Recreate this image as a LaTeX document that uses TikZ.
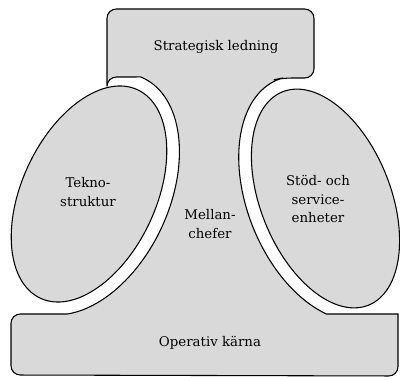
\documentclass[tikz,border=0pt]{standalone}
\usepackage{fontspec}
\setmainfont{DejaVu Serif}
\usetikzlibrary{positioning}
\tikzset{
    stomme/.style  = {draw, line width=0.8pt, fill=black!15},
    del/.style     = {draw, line width=0.8pt, fill=black!15},
    etikett/.style = {font=\fontsize{10}{13.8}\selectfont, align=center, inner sep=1pt}
}

\begin{document}
\begin{tikzpicture}[x=0.75pt, y=0.75pt]
    \useasboundingbox (0,0) rectangle (400,379);

    \draw[stomme] (107,290) [rounded corners=7] -- (107,370) -- (314,370) -- (314,301) -- (283,301) [sharp corners]
        -- plot[domain=85.8:237.1, samples=60, variable=\t]
            ({325.5+72.32*cos(\t)-47.95*sin(\t)}, {180.5+29.22*cos(\t)+118.68*sin(\t)})
        -- (398,65) [rounded corners=7] -- (398,3) -- (11,4) -- (11,65) [sharp corners] -- (67.3,65)
        -- plot[domain=-67.15:91.85, samples=60, variable=\t]
            ({89+72.5*cos(\t)+54.09*sin(\t)}, {185-33.81*cos(\t)+116.01*sin(\t)})
        [rounded corners=7] -- (107,302) -- cycle;

    \draw[del, rotate around={-25:(89,185)}] (89,185) ellipse (67 and 115);
    \draw[del, rotate around={22:(325.5,180.5)}] (325.5,180.5) ellipse (65 and 115);

    \node[etikett] (ledning) at (216,332) {Strategisk ledning};
    \node[etikett] (tekno)   at (88,187)  {Tekno-\\struktur};
    \node[etikett] (mellan)  at (210,155) {Mellan-\\chefer};
    \node[etikett] (stod)    at (318,180) {Stöd- och\\service-\\enheter};
    \node[etikett] (karna)   at (210,36)  {Operativ kärna};
\end{tikzpicture}
\end{document}
